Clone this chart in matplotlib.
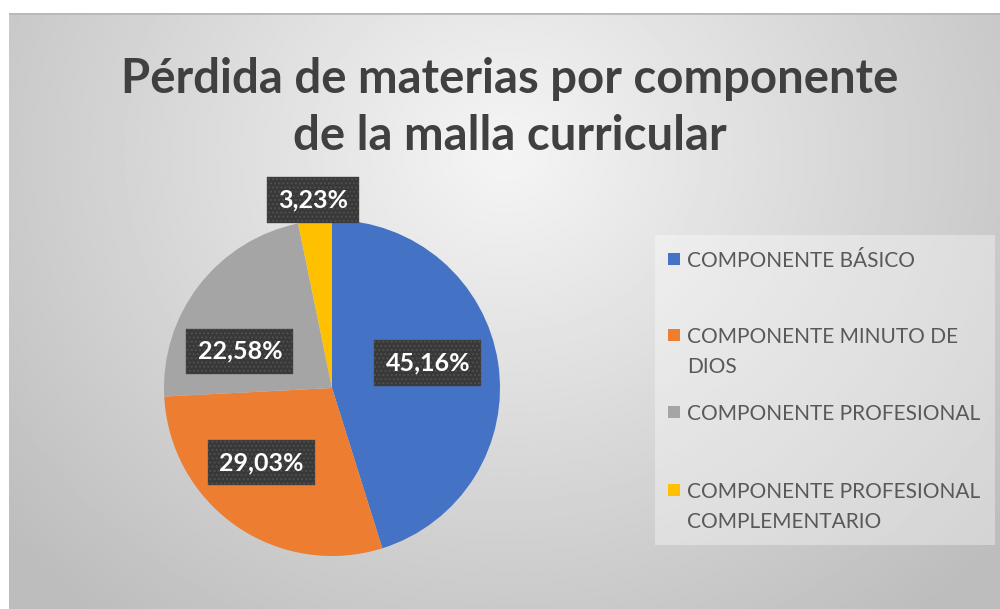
import numpy as np
import matplotlib.pyplot as plt
from matplotlib.patches import Rectangle

# data
categorias = ["COMPONENTE BÁSICO", "COMPONENTE MINUTO DE\nDIOS",
              "COMPONENTE PROFESIONAL", "COMPONENTE PROFESIONAL\nCOMPLEMENTARIO"]
porcentajes = [45.16, 29.03, 22.58, 3.23]
colores = ["#4472C4", "#ED7D31", "#A5A5A5", "#FFC000"]

W, H = 1000, 609
fig = plt.figure(figsize=(W / 100, H / 100), dpi=100)
fig.patch.set_facecolor("white")

def px(x0, y0, w, h):
	# pixel box (from top-left) -> figure fraction
	return [x0 / W, 1 - (y0 + h) / H, w / W, h / H]

# gray radial background
bg = fig.add_axes(px(9, 13, W - 9, H - 13))
yy, xx = np.mgrid[0:300, 0:500]
r = np.sqrt(((xx - 250) / 330.0) ** 2 + ((yy - 70) / 300.0) ** 2)
shade = np.clip(0.96 - 0.22 * r, 0.74, 0.96)
bg.imshow(shade, cmap="gray", vmin=0, vmax=1, aspect="auto", interpolation="bilinear")
bg.axhline(-0.5, color="#b8b8b8", lw=2)
bg.set_axis_off()

fuente = ["Lato", "DejaVu Sans"]

# title
fig.text(510 / W, 1 - 93 / H, "Pérdida de materias por componente", ha="center",
         va="baseline", fontsize=34, fontweight="bold", color="#404040", family=fuente)
fig.text(510 / W, 1 - 150 / H, "de la malla curricular", ha="center",
         va="baseline", fontsize=34, fontweight="bold", color="#404040", family=fuente)

# pie
cx, cy, rad = 332, 388, 168
ax = fig.add_axes(px(cx - rad, cy - rad, 2 * rad, 2 * rad))
wedges, _ = ax.pie(porcentajes, colors=colores, startangle=90, counterclock=False,
                   wedgeprops=dict(linewidth=0), radius=1)
ax.set_xlim(-1, 1)
ax.set_ylim(-1, 1)
ax.set_aspect("equal")

# label placement: angle offset from wedge middle and distance from centre
desfase = [6, -8.6, 16, 0]
distancia = [0.59, 0.61, 0.59, 1.125]
for w, p, d, dist in zip(wedges, porcentajes, desfase, distancia):
	ang = np.deg2rad((w.theta1 + w.theta2) / 2 + d)
	txt = ("%.2f%%" % p).replace(".", ",")
	ax.text(dist * np.cos(ang), dist * np.sin(ang), txt, ha="center", va="center",
	        fontsize=18, fontweight="bold", color="white", family=fuente, clip_on=False,
	        bbox=dict(boxstyle="square,pad=0.45", facecolor="#383838",
	                  edgecolor="#4f4f4f", linewidth=0.3, hatch="...."))

# legend
lg = fig.add_axes(px(655, 235, 340, 310))
lg.add_patch(Rectangle((0, 0), 1, 1, transform=lg.transAxes, facecolor="white",
                       alpha=0.35, linewidth=0))
lg.set_axis_off()
baselines = [267, 343, 420, 498]
for lab, col, b in zip(categorias, colores, baselines):
	fig.patches.append(Rectangle((668 / W, 1 - (b - 2) / H), 12 / W, 12 / H,
	                             transform=fig.transFigure, facecolor=col, linewidth=0))
	for j, linea in enumerate(lab.split("\n")):
		fig.text(687 / W, 1 - (b + 30 * j) / H, linea, ha="left", va="baseline",
		         fontsize=15, color="#595959", family=fuente)

fig.savefig("out.png", dpi=100)
